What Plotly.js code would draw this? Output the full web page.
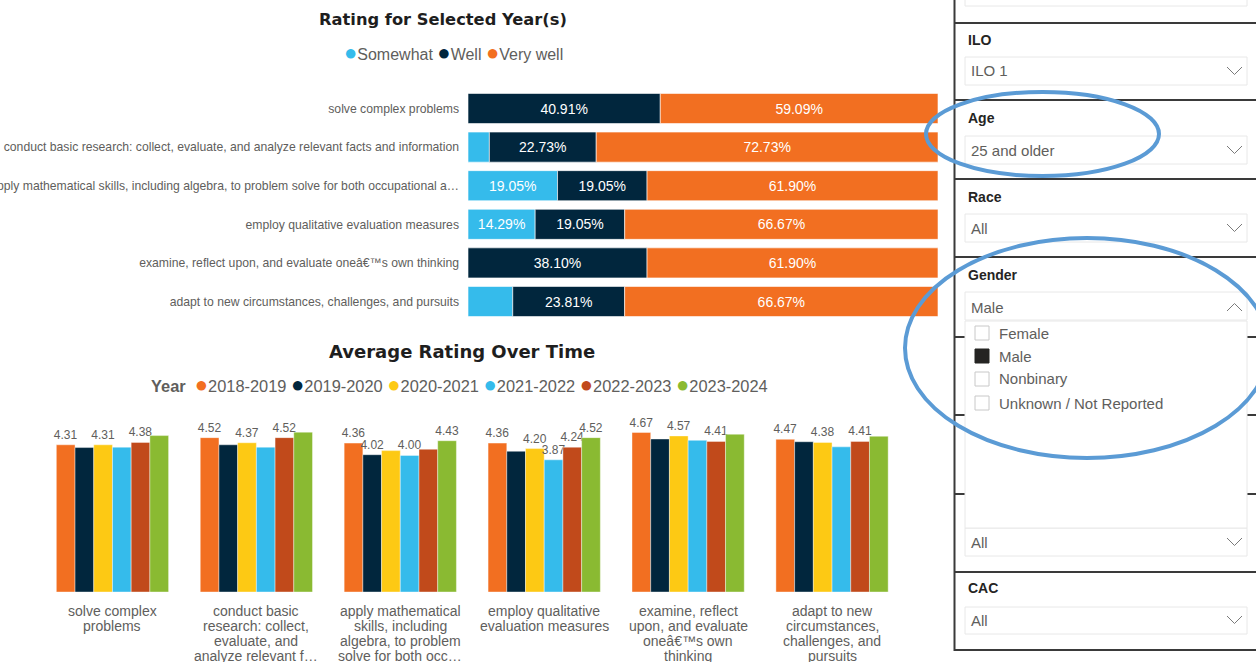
<!DOCTYPE html>
<html><head><meta charset="utf-8">
<script src="https://cdn.plot.ly/plotly-3.0.1.min.js"></script>
<style>html,body{margin:0;padding:0;background:#fff;overflow:hidden}#chart{width:1256px;height:662px}</style>
</head><body><div id="chart"></div>
<script>
// ---------- DATA ----------
const ratingCategories = [
  'solve complex problems',
  'conduct basic research: collect, evaluate, and analyze relevant facts and information',
  'apply mathematical skills, including algebra, to problem solve for both occupational a\u2026',
  'employ qualitative evaluation measures',
  'examine, reflect upon, and evaluate one\u00e2\u20ac\u2122s own thinking',
  'adapt to new circumstances, challenges, and pursuits'
];
const ratingSeriesNames = ['Somewhat', 'Well', 'Very well'];
const somewhatPct = [0, 4.55, 19.05, 14.29, 0, 9.52];
const wellPct     = [40.91, 22.73, 19.05, 19.05, 38.10, 23.81];
const veryWellPct = [59.09, 72.73, 61.90, 66.67, 61.90, 66.67];

const timeCategories = [
  'solve complex<br>problems',
  'conduct basic<br>research: collect,<br>evaluate, and<br>analyze relevant f\u2026',
  'apply mathematical<br>skills, including<br>algebra, to problem<br>solve for both occ\u2026',
  'employ qualitative<br>evaluation measures',
  'examine, reflect<br>upon, and evaluate<br>one\u00e2\u20ac\u2122s own<br>thinking',
  'adapt to new<br>circumstances,<br>challenges, and<br>pursuits'
];
const yearNames = ['2018-2019', '2019-2020', '2020-2021', '2021-2022', '2022-2023', '2023-2024'];
const avg2018 = [4.31, 4.52, 4.36, 4.36, 4.67, 4.47];
const avg2019 = [4.23, 4.31, 4.02, 4.12, 4.48, 4.40];
const avg2020 = [4.31, 4.37, 4.14, 4.20, 4.57, 4.38];
const avg2021 = [4.24, 4.24, 4.00, 3.87, 4.44, 4.25];
const avg2022 = [4.38, 4.52, 4.18, 4.24, 4.41, 4.41];
const avg2023 = [4.58, 4.68, 4.43, 4.52, 4.62, 4.56];
// which data labels the report displays (1 = shown)
const shown2018 = [1, 1, 1, 1, 1, 1];
const shown2019 = [0, 0, 1, 0, 0, 0];
const shown2020 = [1, 1, 0, 1, 1, 1];
const shown2021 = [0, 0, 1, 1, 0, 0];
const shown2022 = [1, 1, 0, 1, 1, 1];
const shown2023 = [0, 0, 1, 1, 0, 0];

const slicerHeaders = ['ILO', 'Age', 'Race', 'Gender', 'CAC'];
const slicerValues  = ['ILO 1', '25 and older', 'All', 'Male', 'All', 'All'];
const genderOptions = ['Female', 'Male', 'Nonbinary', 'Unknown / Not Reported'];
const genderSelected = 'Male';

// ---------- STYLE ----------
const ratingColors = ['#35BBEB', '#01263D', '#F26F21'];
const yearColors = ['#F26F21', '#01263D', '#FDC914', '#35BBEB', '#C14A1B', '#8ABA32'];
const FONT = '"Liberation Sans", Arial, sans-serif';
const TITLE_FONT = '"DejaVu Sans", sans-serif';
const GRAY = '#605E5C';
const DARK = '#252423';
const W = 1256, H = 662;
const X = p => p / W;
const Y = p => 1 - p / H;

// ---------- TRACES ----------
const ratingSeries = [somewhatPct, wellPct, veryWellPct];
const traces = [];
ratingSeries.forEach((vals, i) => {
  const base = vals.map((v, k) => ratingSeries.slice(0, i).reduce((s, a) => s + a[k], 0));
  traces.push({
    type: 'bar', orientation: 'h', name: ratingSeriesNames[i],
    y: ratingCategories, x: vals, base: base,
    xaxis: 'x', yaxis: 'y', offsetgroup: 'rating',
    marker: {color: ratingColors[i], line: {color: 'rgba(255,255,255,0.6)', width: 1}},
    text: vals.map(v => v >= 10 ? v.toFixed(2) + '%' : ''),
    textposition: 'inside', insidetextanchor: 'middle',
    textfont: {family: FONT, size: 14, color: '#FFFFFF'},
    constraintext: 'none', showlegend: false, hoverinfo: 'skip'
  });
});
const yearSeries = [avg2018, avg2019, avg2020, avg2021, avg2022, avg2023];
const yearShown = [shown2018, shown2019, shown2020, shown2021, shown2022, shown2023];
yearSeries.forEach((vals, i) => {
  traces.push({
    type: 'bar', name: yearNames[i],
    x: timeCategories, y: vals,
    xaxis: 'x2', yaxis: 'y2', offsetgroup: 'yr' + i,
    marker: {color: yearColors[i], line: {color: 'rgba(255,255,255,0.5)', width: 0.8}},
    text: vals.map((v, k) => yearShown[i][k] ? v.toFixed(2) : ''),
    textposition: 'outside', cliponaxis: false, constraintext: 'none',
    textfont: {family: FONT, size: 12, color: GRAY},
    showlegend: false, hoverinfo: 'skip'
  });
});

// ---------- ANNOTATIONS ----------
const dot = c => '<span style="color:' + c + ';font-size:22px">\u25CF</span>';
const annotations = [
  {text: '<b>Rating for Selected Year(s)</b>', x: X(443), y: Y(19), xanchor: 'center', yanchor: 'middle',
   font: {family: TITLE_FONT, size: 16.3, color: '#1E1E1E'}},
  {text: ratingSeriesNames.map((n, i) => dot(ratingColors[i]) + n).join(' '), x: X(454), y: Y(52),
   xanchor: 'center', yanchor: 'middle', font: {family: FONT, size: 16, color: GRAY}},
  {text: '<b>Average Rating Over Time</b>', x: X(462), y: Y(351), xanchor: 'center', yanchor: 'middle',
   font: {family: TITLE_FONT, size: 18, color: '#1E1E1E'}},
  {text: '<b>Year</b>  ' + yearNames.map((n, i) => dot(yearColors[i]) + n).join(' '), x: X(459), y: Y(384),
   xanchor: 'center', yanchor: 'middle', font: {family: FONT, size: 16.4, color: GRAY}}
];
// wrapped category labels under the bottom chart, one line per annotation
timeCategories.forEach(cat => {
  cat.split('<br>').forEach((ln, j) => annotations.push({
    text: ln, xref: 'x2', x: cat, y: Y(611 + 15 * j), xanchor: 'center', yanchor: 'middle',
    font: {family: FONT, size: 14, color: GRAY}}));
});
const headerY = [40, 118, 197, 275, 588];
slicerHeaders.forEach((h, i) => annotations.push({
  text: '<b>' + h + '</b>', x: X(966), y: Y(headerY[i]), xanchor: 'left', yanchor: 'middle',
  font: {family: FONT, size: 14, color: DARK}}));
const valueY = [71, 150, 228, 307, 542, 620];
slicerValues.forEach((v, i) => annotations.push({
  text: v, x: X(969), y: Y(valueY[i]), xanchor: 'left', yanchor: 'middle',
  font: {family: FONT, size: 15, color: GRAY}}));
const optY = [333, 356, 379, 403];
genderOptions.forEach((o, i) => annotations.push({
  text: o, x: X(997), y: Y(optY[i]), xanchor: 'left', yanchor: 'middle',
  font: {family: FONT, size: 15, color: GRAY}}));
annotations.forEach(a => { if (!a.xref) a.xref = 'paper'; a.yref = 'paper'; a.showarrow = false; });

// ---------- SHAPES (slicer panel) ----------
const shapes = [];
const line = (x0, y0, x1, y1, c, w) => shapes.push({type: 'line', xref: 'paper', yref: 'paper',
  x0: X(x0), y0: Y(y0), x1: X(x1), y1: Y(y1), line: {color: c, width: w}});
const rect = (x0, y0, x1, y1, fill, c) => shapes.push({type: 'rect', xref: 'paper', yref: 'paper',
  x0: X(x0), y0: Y(y0), x1: X(x1), y1: Y(y1), fillcolor: fill, line: {color: c, width: 1}});
line(954.5, 0, 954.5, 651, '#3A3A3A', 2);
[23, 100, 179, 257, 337, 415, 494, 572, 650].forEach(y => line(954, y, 1256, y, '#3A3A3A', 2));
[[-22, 6], [57, 85], [136, 164], [214, 242], [292, 320], [528, 556], [607, 634]]
  .forEach(b => rect(965, b[0], 1247, b[1], '#FFFFFF', '#E8E8E8'));
rect(965, 321, 1247, 528, '#FFFFFF', '#E8E8E8');
genderOptions.forEach((o, i) => rect(975, optY[i] - 7, 989, optY[i] + 7,
  o === genderSelected ? '#252423' : '#FFFFFF', o === genderSelected ? '#252423' : '#C8C8C8'));
const path = pts => 'M' + pts.map(p => X(p[0]) + ',' + Y(p[1])).join(' L');
[71, 150, 228, 542, 620].forEach(cy => shapes.push({type: 'path', xref: 'paper', yref: 'paper',
  path: path([[1227, cy - 4], [1234.5, cy + 3.5], [1242, cy - 4]]), line: {color: '#7A7A7A', width: 1}}));
shapes.push({type: 'path', xref: 'paper', yref: 'paper',
  path: path([[1227, 311], [1234.5, 303.5], [1242, 311]]), line: {color: '#7A7A7A', width: 1}});
// highlight ellipses
shapes.push({type: 'circle', xref: 'paper', yref: 'paper', x0: X(926), y0: Y(92), x1: X(1159), y1: Y(176),
  line: {color: '#5B9BD5', width: 4}});
shapes.push({type: 'circle', xref: 'paper', yref: 'paper', x0: X(905), y0: Y(238), x1: X(1269), y1: Y(458),
  line: {color: '#5B9BD5', width: 4}});

// ---------- LAYOUT ----------
const layout = {
  width: W, height: H, margin: {l: 0, r: 0, t: 0, b: 0},
  paper_bgcolor: '#FFFFFF', plot_bgcolor: 'rgba(0,0,0,0)',
  barmode: 'group', bargap: 0.22, bargroupgap: 0,
  font: {family: FONT, color: GRAY},
  xaxis: {domain: [X(468), X(938)], range: [0, 100], visible: false, fixedrange: true},
  yaxis: {domain: [Y(320.8), Y(89.2)], type: 'category', range: [5.5, -0.5],
          showgrid: false, zeroline: false, showline: false, ticks: '',
          tickfont: {family: FONT, size: 12.2, color: GRAY}, ticklabelstandoff: 8},
  xaxis2: {domain: [X(40.5), X(904)], anchor: 'y2', type: 'category', range: [-0.5, 5.5],
           showgrid: false, zeroline: false, showline: false, ticks: '', showticklabels: false},
  yaxis2: {domain: [Y(592), Y(421.25)], anchor: 'x2', range: [0, 5], visible: false},
  annotations: annotations, shapes: shapes, showlegend: false
};
Plotly.newPlot('chart', traces, layout, {displayModeBar: false, staticPlot: true});
</script></body></html>
